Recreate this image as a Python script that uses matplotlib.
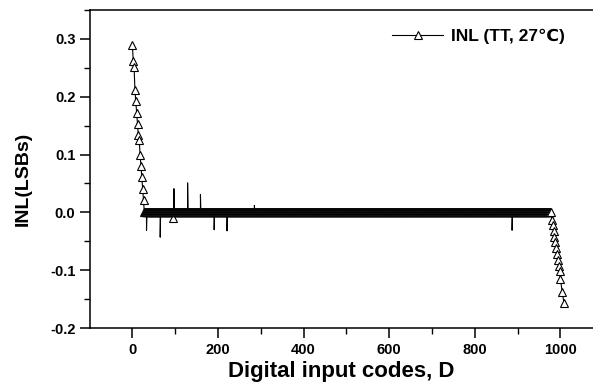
import matplotlib
matplotlib.use("Agg")
import matplotlib.pyplot as plt
from matplotlib.lines import Line2D
from matplotlib.ticker import MultipleLocator
import numpy as np

plt.rcParams['font.family'] = ['Liberation Sans', 'DejaVu Sans']
plt.rcParams['font.weight'] = 'bold'

# INL
start_codes = [0, 2, 4, 6, 8, 10, 12, 14, 16, 18, 20, 22, 24, 26]
start_inl = [0.29, 0.262, 0.251, 0.211, 0.192, 0.172, 0.153, 0.133, 0.125,
             0.10, 0.081, 0.061, 0.041, 0.021]

flat_first, flat_last = 28, 976       # flat part sits at 0 LSB
dip_code, dip_inl = 96, -0.01

end_codes = [978, 980, 982, 984, 986, 988, 990, 992, 994, 996, 998,
             1000, 1004, 1008]
end_inl = [0.0, -0.014, -0.022, -0.032, -0.042, -0.052, -0.062, -0.072,
           -0.082, -0.092, -0.102, -0.115, -0.138, -0.156]

# single-code glitches (line only, no marker)
glitch_codes = [33, 65, 97, 129, 159, 191, 221, 285, 887]
glitch_inl = [-0.031, -0.043, 0.041, 0.051, 0.031, -0.03, -0.032, 0.012, -0.031]

flat_codes = list(range(flat_first, flat_last + 1))
flat_inl = [dip_inl if c == dip_code else 0.0 for c in flat_codes]

mark_x = np.array(start_codes + flat_codes + end_codes)
mark_y = np.array(start_inl + flat_inl + end_inl)

line_x = np.concatenate([mark_x, glitch_codes])
line_y = np.concatenate([mark_y, glitch_inl])
order = np.argsort(line_x, kind='stable')
line_x, line_y = line_x[order], line_y[order]

fig = plt.figure(figsize=(5.93, 3.87), dpi=100)
ax = fig.add_axes([90/593, 59/387, 1 - 90/593, 318/387])

ax.plot(line_x, line_y, color='black', lw=0.8)
ax.plot(mark_x, mark_y, ls='none', marker='^', ms=5.5, mfc='white',
        mec='black', mew=0.8)

ax.set_xlim(-99, 1076)
ax.set_ylim(-0.2, 0.35)
ax.xaxis.set_major_locator(MultipleLocator(200))
ax.xaxis.set_minor_locator(MultipleLocator(100))
ax.yaxis.set_minor_locator(MultipleLocator(0.05))
ax.set_yticks([-0.2, -0.1, 0.0, 0.1, 0.2, 0.3])
ax.set_yticklabels(['-0.2', '-0.1', '0.0', '0.1', '0.2', '0.3'])

ax.tick_params(which='major', direction='out', length=7, width=1.1,
               labelsize=10.5)
ax.tick_params(which='minor', direction='out', length=4, width=1.0)
for s in ['left', 'bottom', 'top']:
    ax.spines[s].set_linewidth(1.1)
ax.spines['right'].set_visible(False)

ax.set_xlabel('Digital input codes, D', fontsize=16, fontweight='bold',
              labelpad=3)
ax.set_ylabel('INL(LSBs)', fontsize=14, fontweight='bold')
ax.yaxis.set_label_coords(-0.115, 0.47)

handle = Line2D([], [], color='black', lw=0.8, marker='^', ms=5.5,
                mfc='white', mec='black', mew=0.8)
ax.legend([handle], ['INL (TT, 27\u2103)'], loc='upper left',
          bbox_to_anchor=(0.57, 0.99), frameon=False, fontsize=12.5,
          handlelength=2.9, handletextpad=0.5)

fig.savefig('out.png', dpi=100)
